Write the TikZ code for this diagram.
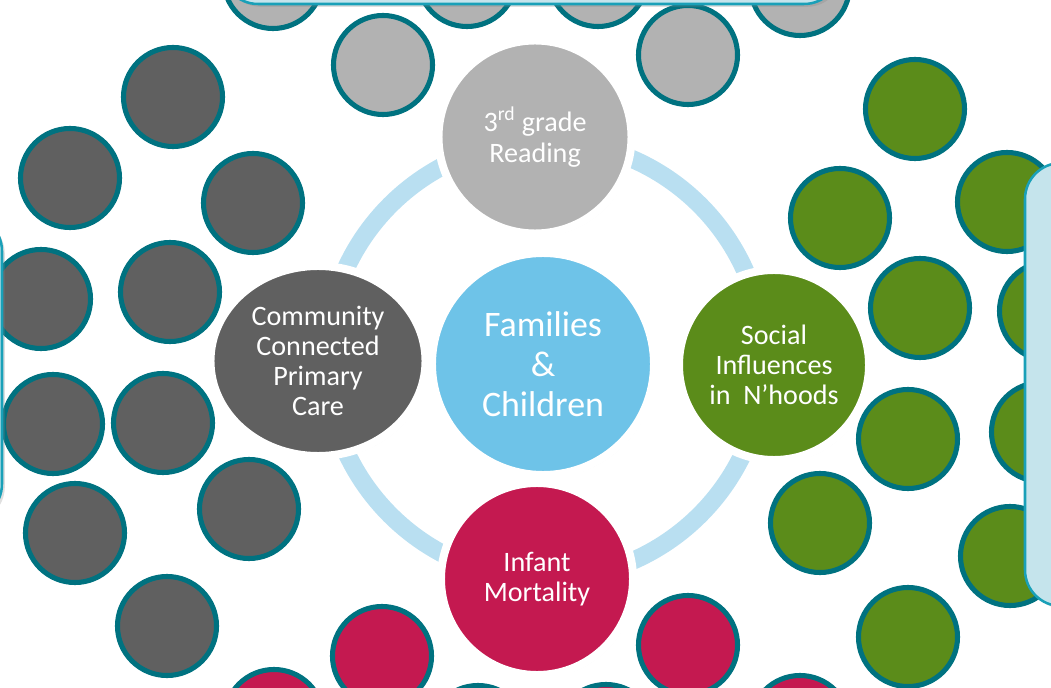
\documentclass[tikz,border=0pt]{standalone}
\usepackage{fontspec}
\setmainfont{Carlito}
\usetikzlibrary{shapes.geometric,shadows}
\definecolor{dotline}{RGB}{0,114,128}
\definecolor{readgray}{RGB}{178,178,178}
\definecolor{caregray}{RGB}{96,96,96}
\definecolor{socialgreen}{RGB}{91,140,26}
\definecolor{infantred}{RGB}{196,25,80}
\definecolor{hubblue}{RGB}{110,195,232}
\definecolor{ringblue}{RGB}{185,223,241}
\definecolor{panelfill}{RGB}{197,228,236}
\definecolor{panelline}{RGB}{25,160,184}
\tikzset{
    smalldot/.style={draw=dotline,line width=3.6pt},
    bignode/.style={circle,draw=white,line width=5.7pt,text=white,align=center,
        drop shadow={shadow xshift=1.5pt,shadow yshift=-2pt,opacity=0.18}},
    panel/.style={fill=panelfill,draw=panelline,line width=1.8pt,rounded corners=0.9cm,
        drop shadow={shadow xshift=2pt,shadow yshift=-2pt,opacity=0.25}},
    ring/.style={draw=ringblue,line width=0.45cm}
}
\begin{document}
\begin{tikzpicture}[x=0.025cm,y=-0.025cm]
            \useasboundingbox (0,0) rectangle (1051,688);
            \clip (0,0) rectangle (1051,688);
            \filldraw [smalldot,fill=readgray] (383,65) circle (1.2375cm);
            \filldraw [smalldot,fill=readgray] (688,55) circle (1.2375cm);
            \filldraw [smalldot,fill=readgray] (273,-21) circle (1.2375cm);
            \filldraw [smalldot,fill=readgray] (467,-23) circle (1.2375cm);
            \filldraw [smalldot,fill=readgray] (598,-23) circle (1.2375cm);
            \filldraw [smalldot,fill=readgray] (800,-14) circle (1.2375cm);
            \filldraw [smalldot,fill=caregray] (173,97) circle (1.2375cm);
            \filldraw [smalldot,fill=caregray] (70,178) circle (1.2375cm);
            \filldraw [smalldot,fill=caregray] (253,203) circle (1.2375cm);
            \filldraw [smalldot,fill=caregray] (41,299) circle (1.2375cm);
            \filldraw [smalldot,fill=caregray] (170,292) circle (1.2375cm);
            \filldraw [smalldot,fill=caregray] (53,424) circle (1.2375cm);
            \filldraw [smalldot,fill=caregray] (163,423) circle (1.2375cm);
            \filldraw [smalldot,fill=caregray] (75,533) circle (1.2375cm);
            \filldraw [smalldot,fill=caregray] (249,509) circle (1.2375cm);
            \filldraw [smalldot,fill=caregray] (167,626) circle (1.2375cm);
            \filldraw [smalldot,fill=socialgreen] (915,109) circle (1.2375cm);
            \filldraw [smalldot,fill=socialgreen] (840,218) circle (1.2375cm);
            \filldraw [smalldot,fill=socialgreen] (1007,202) circle (1.2375cm);
            \filldraw [smalldot,fill=socialgreen] (920,308) circle (1.2375cm);
            \filldraw [smalldot,fill=socialgreen] (1049,311) circle (1.2375cm);
            \filldraw [smalldot,fill=socialgreen] (908,439) circle (1.2375cm);
            \filldraw [smalldot,fill=socialgreen] (1041,432) circle (1.2375cm);
            \filldraw [smalldot,fill=socialgreen] (820,523) circle (1.2375cm);
            \filldraw [smalldot,fill=socialgreen] (1010,556) circle (1.2375cm);
            \filldraw [smalldot,fill=socialgreen] (908,637) circle (1.2375cm);
            \filldraw [smalldot,fill=infantred] (382,656) circle (1.2375cm);
            \filldraw [smalldot,fill=infantred] (274,719) circle (1.2375cm);
            \filldraw [smalldot,fill=infantred] (478,735) circle (1.2375cm);
            \filldraw [smalldot,fill=infantred] (606,734) circle (1.2375cm);
            \filldraw [smalldot,fill=infantred] (688,645) circle (1.2375cm);
            \filldraw [smalldot,fill=infantred] (800,725) circle (1.2375cm);
            \draw[panel] (222,-200) rectangle (840,4);
            \draw[panel] (-400,215) rectangle (2,520);
            \draw[panel] (1025,163) rectangle (1400,606);
            \coordinate (ringc) at (545,360);
            \draw[ring] (ringc) circle (5.475cm);
            \node[bignode,fill=hubblue,minimum size=5.55cm,font=\fontsize{25.5}{28.5}\selectfont] (hub) at (543,364) {Families\\\&\\Children};
            \node[bignode,fill=readgray,minimum size=4.825cm,font=\fontsize{20}{22}\selectfont] (reading) at (535,137) {3\textsuperscript{rd} grade\\Reading};
            \node[bignode,fill=socialgreen,minimum size=4.75cm,font=\fontsize{20}{21.3}\selectfont] (social) at (774,365) {Social\\Influences\\in~~N’hoods};
            \node[bignode,fill=infantred,minimum size=4.8cm,font=\fontsize{20}{21.3}\selectfont] (infant) at (537,579) {Infant\\Mortality};
            \node[bignode,ellipse,fill=caregray,minimum width=5.375cm,minimum height=4.75cm,font=\fontsize{20}{21.3}\selectfont] (care) at (318,361) {Community\\Connected\\Primary\\Care};
        \end{tikzpicture}
\end{document}
